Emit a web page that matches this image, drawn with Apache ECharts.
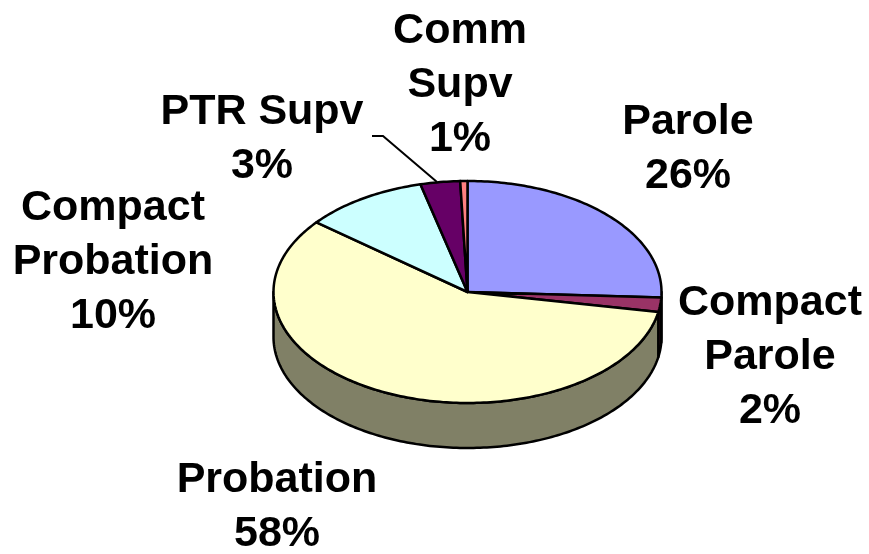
<!DOCTYPE html>
<html>
<head>
<meta charset="utf-8">
<script src="https://cdn.jsdelivr.net/npm/echarts@6/dist/echarts.min.js"></script>
<style>
  html, body { margin: 0; padding: 0; background: #ffffff; }
  #myChart { width: 869px; height: 554px; }
</style>
</head>
<body>
<div id="myChart"></div>
<script>
  // data
  var categories = ['Parole', 'Compact\nParole', 'Probation', 'Compact\nProbation', 'PTR Supv', 'Comm\nSupv']
  var values = [25.8, 2.1, 57.9, 10.3, 3.3, 0.6]
  var topColors = ['#9999FF', '#993366', '#FFFFCC', '#CCFFFF', '#660066', '#FF8080']
  var sideColors = ['#4D4D80', '#4D1A33', '#808066', '#668080', '#330033', '#804040']

  // layout of the tilted pie and its labels
  var cx = 467.5, cy = 292, rx = 194, ry = 111, depth = 45
  var labelPos = [[688, 149], [770, 357], [277, 507], [113, 262], [262, 139], [460, 85]]

  var total = values.reduce(function(a, b) { return a + b }, 0)
  var angles = []
  var cum = 0
  values.forEach(function(v) {
    var a0 = 90 - 360 * cum / total
    cum += v
    angles.push([a0, 90 - 360 * cum / total])
  })

  function pt(t, dy) {
    var r = t * Math.PI / 180
    return [cx + rx * Math.cos(r), cy - ry * Math.sin(r) + (dy || 0)]
  }

  function arc(from, to, dy) {
    var pts = []
    var n = Math.max(2, Math.ceil(Math.abs(from - to)))
    for (var k = 0; k <= n; k++) {
      pts.push(pt(from + (to - from) * k / n, dy))
    }
    return pts
  }

  function renderSide(params) {
    var a = angles[params.dataIndex]
    var hi = Math.min(a[0], 0)
    var lo = Math.max(a[1], -180)
    if (hi <= lo) return null
    var pts = arc(hi, lo, 0).concat(arc(lo, hi, depth))
    return {
      type: 'polygon',
      shape: { points: pts },
      style: { fill: sideColors[params.dataIndex], stroke: '#000', lineWidth: 2.5, lineJoin: 'round' }
    }
  }

  function renderTop(params) {
    var a = angles[params.dataIndex]
    var pts = [[cx, cy]].concat(arc(a[0], a[1], 0))
    return {
      type: 'polygon',
      shape: { points: pts },
      style: { fill: topColors[params.dataIndex], stroke: '#000', lineWidth: 2.5, lineJoin: 'round' }
    }
  }

  var labels = categories.map(function(name, i) {
    return {
      type: 'text',
      x: labelPos[i][0],
      y: labelPos[i][1],
      style: {
        text: name + '\n' + Math.round(values[i] / total * 100) + '%',
        font: 'bold 43px "Liberation Sans", Arial, sans-serif',
        lineHeight: 54,
        fill: '#000',
        align: 'center',
        verticalAlign: 'middle'
      }
    }
  })
  // leader line for PTR Supv
  labels.push({
    type: 'polyline',
    shape: { points: [[372, 136], [383, 136], [437, 182]] },
    style: { stroke: '#000', lineWidth: 2, fill: null }
  })

  var myChart = echarts.init(document.getElementById('myChart'))
  myChart.setOption({
    animation: false,
    series: [{
      type: 'custom',
      coordinateSystem: 'none',
      renderItem: renderSide,
      data: values,
      z: 1
    }, {
      type: 'custom',
      coordinateSystem: 'none',
      renderItem: renderTop,
      data: values,
      z: 2
    }],
    graphic: labels
  })
</script>
</body>
</html>
